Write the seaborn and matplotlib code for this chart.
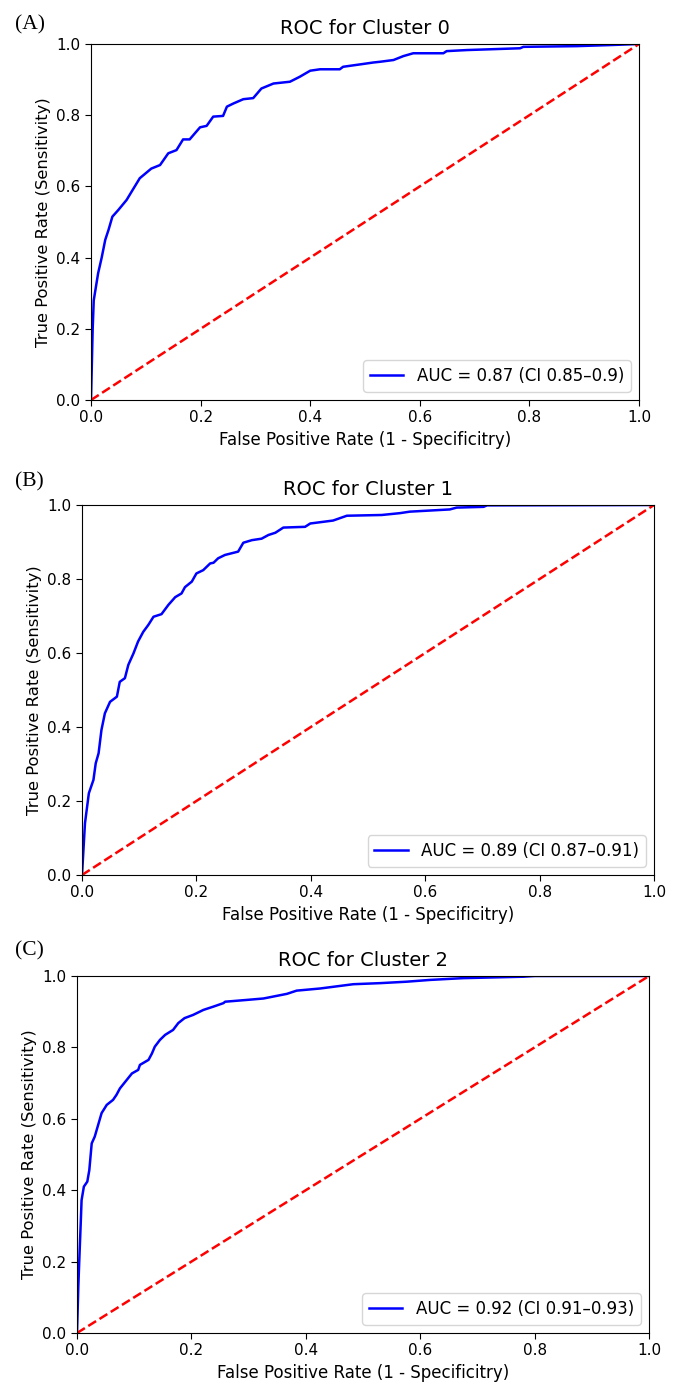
import numpy as np
import pandas as pd
import seaborn as sns
import matplotlib
matplotlib.use("Agg")
import matplotlib.pyplot as plt

plt.rcParams['font.family'] = ['DejaVu Sans']

# ROC points (fpr, tpr) for each cluster
fpr_0 = [0.0, 0.003, 0.005, 0.013, 0.0195, 0.026, 0.032, 0.039, 0.05, 0.065, 0.074,
         0.089, 0.11, 0.126, 0.141, 0.156, 0.168, 0.18, 0.199, 0.211, 0.223, 0.241,
         0.248, 0.26, 0.278, 0.296, 0.311, 0.333, 0.363, 0.381, 0.40, 0.418, 0.454,
         0.46, 0.497, 0.515, 0.527, 0.552, 0.570, 0.588, 0.643, 0.649, 0.686, 0.783,
         0.789, 0.886, 0.947, 1.0]
tpr_0 = [0.0, 0.197, 0.28, 0.356, 0.40, 0.45, 0.478, 0.515, 0.534, 0.562, 0.585,
         0.623, 0.65, 0.66, 0.693, 0.702, 0.732, 0.732, 0.766, 0.77, 0.796, 0.798,
         0.824, 0.833, 0.845, 0.848, 0.875, 0.889, 0.894, 0.908, 0.925, 0.929, 0.929,
         0.936, 0.944, 0.948, 0.950, 0.955, 0.966, 0.974, 0.974, 0.980, 0.983, 0.988,
         0.992, 0.994, 0.997, 1.0]

fpr_1 = [0.0, 0.0052, 0.012, 0.02, 0.024, 0.029, 0.034, 0.040, 0.049, 0.061, 0.066,
         0.075, 0.081, 0.090, 0.098, 0.107, 0.116, 0.125, 0.139, 0.151, 0.163, 0.174,
         0.180, 0.192, 0.20, 0.212, 0.224, 0.23, 0.238, 0.25, 0.273, 0.282, 0.297,
         0.314, 0.326, 0.338, 0.352, 0.39, 0.399, 0.439, 0.463, 0.524, 0.556, 0.573,
         0.643, 0.655, 0.702, 0.708, 1.0]
tpr_1 = [0.0, 0.14, 0.221, 0.257, 0.302, 0.329, 0.392, 0.437, 0.468, 0.482, 0.522,
         0.532, 0.568, 0.599, 0.631, 0.657, 0.676, 0.698, 0.705, 0.730, 0.751, 0.761,
         0.778, 0.793, 0.815, 0.824, 0.842, 0.844, 0.856, 0.865, 0.874, 0.898, 0.905,
         0.909, 0.919, 0.925, 0.939, 0.941, 0.950, 0.958, 0.971, 0.973, 0.978, 0.982,
         0.988, 0.993, 0.995, 0.999, 1.0]

fpr_2 = [0.0, 0.0023, 0.004, 0.0065, 0.008, 0.012, 0.018, 0.0215, 0.0257, 0.031, 0.037,
         0.043, 0.052, 0.063, 0.069, 0.075, 0.087, 0.096, 0.107, 0.110, 0.125, 0.131,
         0.136, 0.145, 0.154, 0.168, 0.177, 0.188, 0.203, 0.221, 0.238, 0.256, 0.259,
         0.297, 0.326, 0.367, 0.384, 0.425, 0.483, 0.53, 0.576, 0.617, 0.675, 0.78,
         0.80, 1.0]
tpr_2 = [0.0, 0.13, 0.204, 0.307, 0.372, 0.41, 0.424, 0.456, 0.531, 0.550, 0.583,
         0.616, 0.639, 0.653, 0.667, 0.685, 0.709, 0.727, 0.737, 0.751, 0.765, 0.783,
         0.802, 0.821, 0.835, 0.849, 0.868, 0.882, 0.891, 0.905, 0.914, 0.924, 0.928,
         0.933, 0.937, 0.950, 0.959, 0.965, 0.977, 0.980, 0.984, 0.989, 0.994, 0.998,
         1.0, 1.0]

auc_labels = ["AUC = 0.87 (CI 0.85\u20130.9)",
              "AUC = 0.89 (CI 0.87\u20130.91)",
              "AUC = 0.92 (CI 0.91\u20130.93)"]
panel_tags = ["(A)", "(B)", "(C)"]
ticks = [0.0, 0.2, 0.4, 0.6, 0.8, 1.0]

curves = [(fpr_0, tpr_0), (fpr_1, tpr_1), (fpr_2, tpr_2)]

# axes boxes in figure fraction (left, bottom, width, height)
boxes = [(91 / 676, 984 / 1384, 548 / 676, 356 / 1384),
         (82 / 676, 509 / 1384, 572 / 676, 370 / 1384),
         (77 / 676, 51 / 1384, 572 / 676, 357 / 1384)]
tag_y = [1369 / 1384, 912 / 1384, 443 / 1384]

fig = plt.figure(figsize=(6.76, 13.84), dpi=100)

for i, (fpr, tpr) in enumerate(curves):
    ax = fig.add_axes(boxes[i])
    df = pd.DataFrame({"fpr": fpr, "tpr": tpr})
    sns.lineplot(data=df, x="fpr", y="tpr", ax=ax, color="blue", lw=1.8,
                 sort=False, estimator=None, label=auc_labels[i])
    sns.lineplot(x=[0, 1], y=[0, 1], ax=ax, color="red", lw=1.8,
                 linestyle="--", estimator=None)
    ax.set_xlim(0, 1)
    ax.set_ylim(0, 1)
    ax.set_xticks(ticks)
    ax.set_yticks(ticks)
    ax.tick_params(labelsize=11, length=4)
    ax.set_xlabel("False Positive Rate (1 - Specificitry)", fontsize=12)
    ax.set_ylabel("True Positive Rate (Sensitivity)", fontsize=11.8)
    ax.set_title(f"ROC for Cluster {i}", fontsize=14, pad=7)
    ax.legend(loc="lower right", fontsize=12)
    fig.text(15 / 676, tag_y[i], panel_tags[i], family="Liberation Serif",
             fontsize=15.5, va="top", ha="left")

fig.savefig("out.png", dpi=100)
